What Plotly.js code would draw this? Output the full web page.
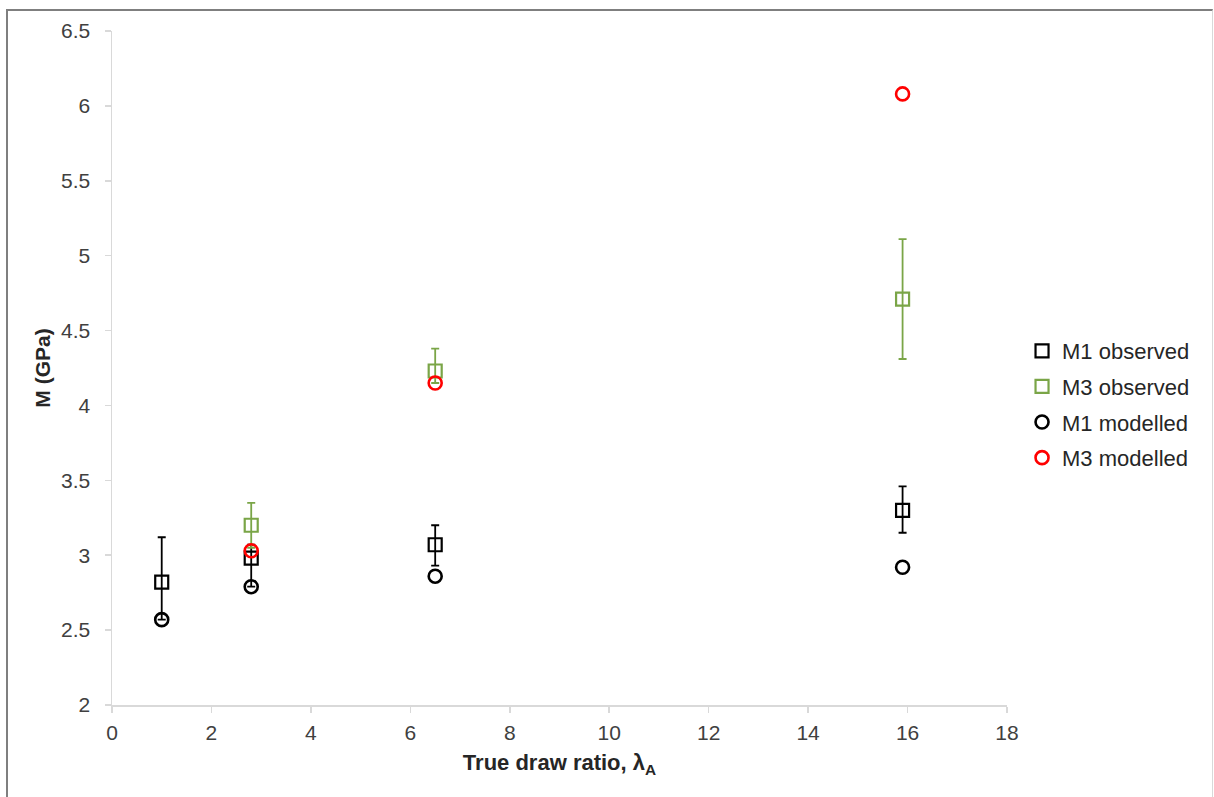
<!DOCTYPE html>
<html>
<head>
<meta charset="utf-8">
<script src="https://cdn.plot.ly/plotly-3.0.1.min.js"></script>
<style>
html,body{margin:0;padding:0;background:#fff;}
#frame{position:absolute;left:6px;top:9px;width:1207px;height:800px;border-left:2px solid #7f7f7f;border-top:2px solid #7f7f7f;border-right:1px solid #d9d9d9;box-sizing:border-box;pointer-events:none;z-index:5;}
#chart{position:absolute;left:0;top:0;width:1214px;height:797px;}
</style>
</head>
<body>
<div id="chart"></div>
<div id="frame"></div>
<script>
// Data
const drawRatio = [1, 2.8, 6.5, 15.9];
const m1Observed = [2.82, 2.98, 3.07, 3.30];
const m1ErrPlus = [0.30, 0.09, 0.13, 0.16];
const m1ErrMinus = [0.25, 0.19, 0.14, 0.15];
const m3DrawRatio = [2.8, 6.5, 15.9];
const m3Observed = [3.20, 4.23, 4.71];
const m3ErrPlus = [0.15, 0.15, 0.40];
const m3ErrMinus = [0.15, 0.08, 0.40];
const m1Modelled = [2.57, 2.79, 2.86, 2.92];
const m3Modelled = [3.03, 4.15, 6.08];

const green = '#7AA547';
const traces = [
  {x: drawRatio, y: m1Observed, name: 'M1 observed', type: 'scatter', mode: 'markers',
   marker: {symbol: 'square-open', size: 13, color: '#000', line: {width: 2.2, color: '#000'}},
   error_y: {type: 'data', symmetric: false, array: m1ErrPlus, arrayminus: m1ErrMinus, visible: true, color: '#000', thickness: 1.8, width: 4},
   legendgroup: 'a'},
  {x: m3DrawRatio, y: m3Observed, name: 'M3 observed', type: 'scatter', mode: 'markers',
   marker: {symbol: 'square-open', size: 13, color: green, line: {width: 2.2, color: green}},
   error_y: {type: 'data', symmetric: false, array: m3ErrPlus, arrayminus: m3ErrMinus, visible: true, color: green, thickness: 1.8, width: 4},
   legendgroup: 'b'},
  {x: drawRatio, y: m1Modelled, name: 'M1 modelled', type: 'scatter', mode: 'markers',
   marker: {symbol: 'circle-open', size: 13, color: '#000', line: {width: 2.6, color: '#000'}},
   legendgroup: 'c'},
  {x: m3DrawRatio, y: m3Modelled, name: 'M3 modelled', type: 'scatter', mode: 'markers',
   marker: {symbol: 'circle-open', size: 13, color: '#ff0000', line: {width: 2.6, color: '#ff0000'}},
   legendgroup: 'd'}
];

const layout = {
  width: 1214, height: 797,
  margin: {l: 112, r: 207, t: 31, b: 92},
  paper_bgcolor: '#fff', plot_bgcolor: '#fff',
  font: {family: 'Liberation Sans, Arial, sans-serif', size: 21, color: '#404040'},
  showlegend: true,
  legend: {x: 1.0168, xanchor: 'left', y: 0.4458, yanchor: 'middle', tracegroupgap: 4,
           font: {size: 22, color: '#262626'}, itemwidth: 30, bgcolor: 'rgba(0,0,0,0)'},
  xaxis: {range: [0, 18], dtick: 2, tick0: 0, showgrid: false, zeroline: false,
          showline: true, linecolor: '#d9d9d9', linewidth: 1.5,
          ticks: 'outside', ticklen: 6, tickcolor: '#d9d9d9', tickwidth: 1.5,
          tickfont: {size: 21, color: '#404040'}, ticklabelstandoff: 2,
          title: {text: '<b>True draw ratio, λ<sub>A</sub></b>', font: {size: 22, color: '#262626'}, standoff: 12}},
  yaxis: {range: [2, 6.5], dtick: 0.5, tick0: 2, showgrid: false, zeroline: false,
          showline: true, linecolor: '#d9d9d9', linewidth: 1.5,
          ticks: 'outside', ticklen: 6, tickcolor: '#d9d9d9', tickwidth: 1.5,
          tickfont: {size: 21, color: '#404040'}, ticklabelstandoff: 10,
          title: {text: '<b>M (GPa)</b>', font: {size: 21, color: '#262626'}, standoff: 4}}
};

Plotly.newPlot('chart', traces, layout, {displayModeBar: false, staticPlot: true});
</script>
</body>
</html>
